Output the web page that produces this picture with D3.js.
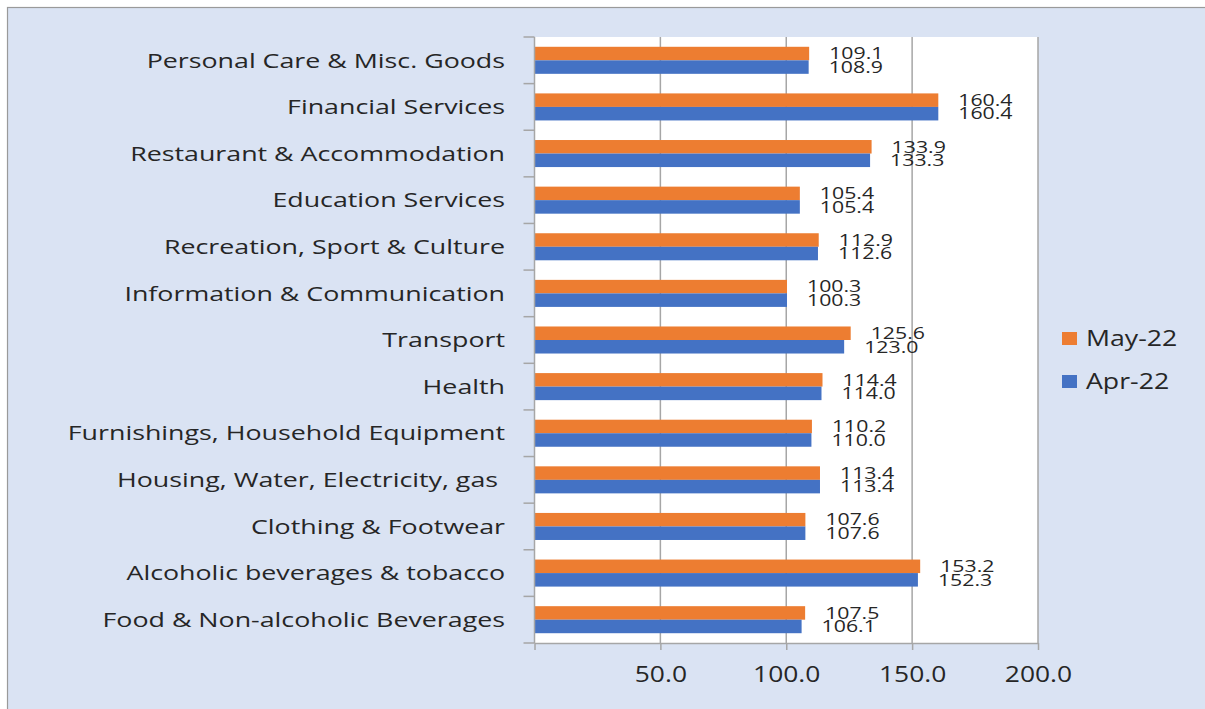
<!DOCTYPE html>
<html>
<head>
<meta charset="utf-8">
<script src="https://d3js.org/d3.v7.min.js"></script>
<style>
  body { margin: 0; background: #fff; }
  text { font-family: "Open Sans", sans-serif; fill: #262626; white-space: pre; }
</style>
</head>
<body>
<script>
// categories, top to bottom as in the chart
const categories = [
  "Personal Care & Misc. Goods",
  "Financial Services",
  "Restaurant & Accommodation",
  "Education Services",
  "Recreation, Sport & Culture",
  "Information & Communication",
  "Transport",
  "Health",
  "Furnishings, Household Equipment",
  "Housing, Water, Electricity, gas ",
  "Clothing & Footwear",
  "Alcoholic beverages & tobacco",
  "Food & Non-alcoholic Beverages"
];
const may22 = [109.1, 160.4, 133.9, 105.4, 112.9, 100.3, 125.6, 114.4, 110.2, 113.4, 107.6, 153.2, 107.5];
const apr22 = [108.9, 160.4, 133.3, 105.4, 112.6, 100.3, 123.0, 114.0, 110.0, 113.4, 107.6, 152.3, 106.1];
const seriesNames = ["May-22", "Apr-22"];
const seriesColors = ["#ED7D31", "#4472C4"];
const tickValues = [0, 50, 100, 150, 200];
const tickLabels = ["", "50.0", "100.0", "150.0", "200.0"];

// the picture is stretched sideways, so text gets a horizontal scale
const catSX = 1.34, valSX = 1.33, tickSX = 1.2, legSX = 1.27;

const W = 1205, H = 709;
const plot = {left: 534.5, right: 1038, top: 37, bottom: 643};

const svg = d3.select("body").append("svg")
  .attr("width", W)
  .attr("height", H);

// chart panel
svg.append("rect")
  .attr("x", 7.5).attr("y", 7.5)
  .attr("width", W + 10).attr("height", H + 10)
  .attr("fill", "#DAE3F3")
  .attr("stroke", "#9a9a9a")
  .attr("stroke-width", 1.2);

// plot area
svg.append("rect")
  .attr("x", plot.left).attr("y", plot.top)
  .attr("width", plot.right - plot.left).attr("height", plot.bottom - plot.top)
  .attr("fill", "#fff");

const x = d3.scaleLinear().domain([0, 200]).range([plot.left, plot.right]);
const y = d3.scaleBand().domain(categories).range([plot.top, plot.bottom])
  .paddingInner(0.42).paddingOuter(0.21);
const ys = d3.scaleBand().domain(seriesNames).range([0, y.bandwidth()]);

// grid lines
svg.append("g").selectAll("line")
  .data(tickValues.slice(1))
  .join("line")
  .attr("x1", d => x(d)).attr("x2", d => x(d))
  .attr("y1", plot.top).attr("y2", plot.bottom)
  .attr("stroke", "#a6a6a6").attr("stroke-width", 1.5);

// bars
const rows = categories.map((c, i) => ({cat: c, vals: [may22[i], apr22[i]]}));
const grp = svg.append("g").selectAll("g")
  .data(rows)
  .join("g")
  .attr("transform", d => "translate(0," + y(d.cat) + ")");

grp.selectAll("rect")
  .data(d => d.vals.map((v, j) => ({v: v, s: seriesNames[j], c: seriesColors[j]})))
  .join("rect")
  .attr("x", x(0))
  .attr("y", d => ys(d.s))
  .attr("width", d => x(d.v) - x(0))
  .attr("height", ys.bandwidth())
  .attr("fill", d => d.c);

// value labels
grp.selectAll("text")
  .data(d => d.vals.map((v, j) => ({v: v, s: seriesNames[j]})))
  .join("text")
  .attr("transform", d => "translate(" + (x(d.v) + 20) + "," + (ys(d.s) + ys.bandwidth() / 2) + ") scale(" + valSX + ",1)")
  .attr("dy", "0.36em")
  .style("font-size", "16px")
  .text(d => d.v.toFixed(1));

// left axis with ticks at category boundaries
const gap = y.step() - y.bandwidth();
const bounds = categories.map(c => y(c) - gap / 2).concat([plot.bottom]);
svg.append("line")
  .attr("x1", plot.left).attr("x2", plot.left)
  .attr("y1", plot.top).attr("y2", plot.bottom)
  .attr("stroke", "#a6a6a6").attr("stroke-width", 1.5);
svg.append("g").selectAll("line")
  .data(bounds)
  .join("line")
  .attr("x1", plot.left - 11).attr("x2", plot.left)
  .attr("y1", d => d).attr("y2", d => d)
  .attr("stroke", "#a6a6a6").attr("stroke-width", 1.5);

// category labels
svg.append("g").selectAll("text")
  .data(categories)
  .join("text")
  .attr("transform", d => "translate(505," + (y(d) + y.bandwidth() / 2) + ") scale(" + catSX + ",1)")
  .attr("text-anchor", "end")
  .attr("dy", "0.36em")
  .style("font-size", "20px")
  .text(d => d);

// bottom axis
const xAxis = svg.append("g")
  .attr("transform", "translate(0," + plot.bottom + ")")
  .call(d3.axisBottom(x).tickValues(tickValues)
    .tickFormat((d, i) => tickLabels[i])
    .tickSizeInner(7).tickSizeOuter(0));
xAxis.select(".domain").attr("stroke", "#a6a6a6").attr("stroke-width", 1.5);
xAxis.selectAll(".tick line").attr("stroke", "#a6a6a6").attr("stroke-width", 1.5);
xAxis.selectAll(".tick text")
  .attr("y", 39).attr("dy", null)
  .attr("transform", "scale(" + tickSX + ",1)")
  .attr("fill", null)
  .style("font-size", "22px")
  .style("font-family", "'Open Sans', sans-serif");

// legend
const legY = [338.5, 381.5];
const leg = svg.append("g").selectAll("g")
  .data(seriesNames)
  .join("g")
  .attr("transform", (d, i) => "translate(1062," + legY[i] + ")");
leg.append("rect")
  .attr("x", 0).attr("y", -6.5)
  .attr("width", 15).attr("height", 13)
  .attr("fill", (d, i) => seriesColors[i]);
leg.append("text")
  .attr("transform", "translate(24,0) scale(" + legSX + ",1)")
  .attr("dy", "0.36em")
  .style("font-size", "21px")
  .text(d => d);
</script>
</body>
</html>
